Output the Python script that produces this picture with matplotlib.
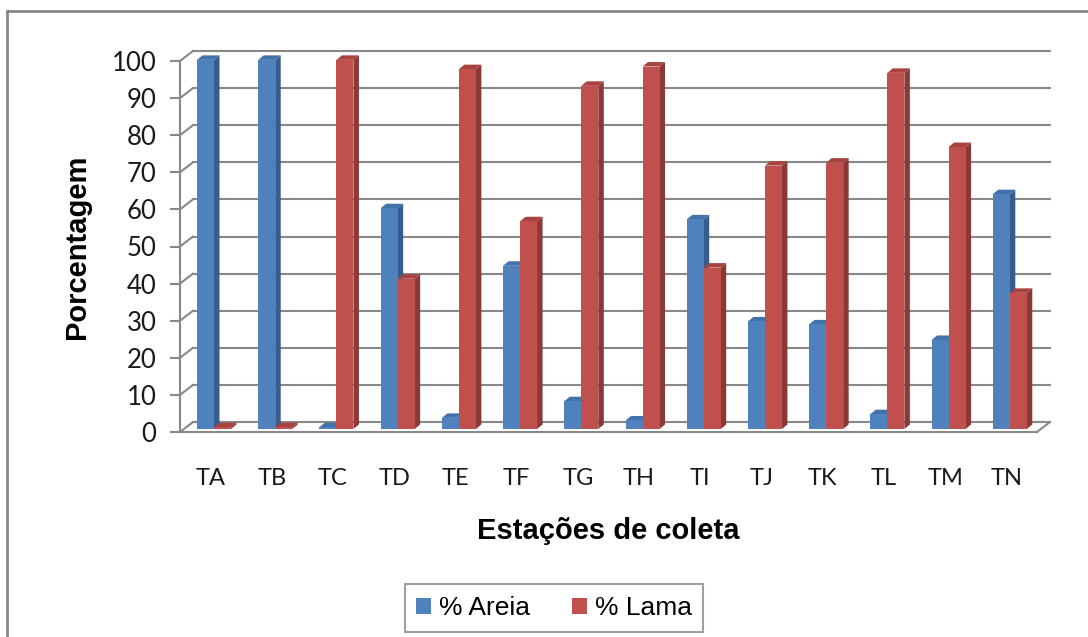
import numpy as np
import matplotlib.pyplot as plt
from matplotlib.patches import Polygon, Patch
from matplotlib.lines import Line2D

# data
stations = ['TA', 'TB', 'TC', 'TD', 'TE', 'TF', 'TG', 'TH', 'TI', 'TJ', 'TK', 'TL', 'TM', 'TN']
areia = [99.5, 99.5, 0.5, 59.5, 3.0, 44.0, 7.5, 2.3, 56.5, 29.0, 28.2, 4.0, 24.0, 63.3]
lama = [0.5, 0.5, 99.5, 40.5, 97.0, 56.0, 92.5, 97.7, 43.5, 71.0, 71.8, 96.0, 76.0, 36.7]
yticks = list(range(0, 101, 10))

W, H = 1088, 637
fig = plt.figure(figsize=(W / 100, H / 100), dpi=100)

# front axis: x 180..1037 px, y 432 (0) .. 61 (100) px
x0p, x1p, y0p, y1p = 180, 1037, 432, 61
ax = fig.add_axes([x0p / W, 1 - y0p / H, (x1p - x0p) / W, (y0p - y1p) / H])
n = len(stations)
ax.set_xlim(-0.5, n - 0.5)
ax.set_ylim(0, 100)
upx = (x1p - x0p) / n          # px per category
upy = (y0p - y1p) / 100.0      # px per percent

grey = '#888888'
lw = 1.5

# 3d offsets (in data units)
dx, dy = 13 / upx, 10 / upy            # wall depth
bw = 17 / upx                           # bar width
ox, oy = 3.4 / upx, 3 / upy             # bar front offset from floor edge
sx, sy = 5.5 / upx, 4.5 / upy           # bar depth

# back wall grid and side wall connectors
for v in yticks:
    ax.plot([-0.5 + dx, n - 0.5 + dx], [v + dy, v + dy], color=grey, lw=lw, zorder=1, clip_on=False)
    ax.plot([-0.5, -0.5 + dx], [v, v + dy], color=grey, lw=lw, zorder=1, clip_on=False)
ax.plot([n - 0.5, n - 0.5 + dx], [0, dy], color=grey, lw=lw, zorder=1, clip_on=False)

front = {'blue': '#4f81bd', 'red': '#c0504d'}
side = {'blue': '#375d8c', 'red': '#8c3836'}
top = {'blue': '#4372aa', 'red': '#a84340'}

x = np.arange(n)
series = [(areia, 'blue', '% Areia', -bw), (lama, 'red', '% Lama', 0.0)]
handles = []
z = 2
for vals, c, lab, shift in series:
    left = x + shift + ox
    for xl, v in zip(left, vals):
        xr = xl + bw
        ax.add_patch(Polygon([(xr, oy), (xr + sx, oy + sy), (xr + sx, oy + v + sy), (xr, oy + v)],
                             closed=True, fc=side[c], ec='none', zorder=z, clip_on=False))
        ax.add_patch(Polygon([(xl, oy + v), (xr, oy + v), (xr + sx, oy + v + sy), (xl + sx, oy + v + sy)],
                             closed=True, fc=top[c], ec='none', zorder=z, clip_on=False))
    ax.bar(left, vals, width=bw, bottom=oy, align='edge', color=front[c], zorder=z + 1, clip_on=False)
    handles.append(Patch(fc=front[c], label=lab))
    z += 2

for s in ['top', 'right']:
    ax.spines[s].set_visible(False)
for s in ['left', 'bottom']:
    ax.spines[s].set_color(grey)
    ax.spines[s].set_linewidth(lw)
    ax.spines[s].set_zorder(0.5)

ax.set_yticks(yticks)
ax.set_xticks(x)
ax.set_xticklabels(stations)
ax.tick_params(axis='y', length=7, width=lw, color=grey, pad=10, labelsize=18.5, labelcolor='#1a1a1a')
ax.tick_params(axis='x', length=0, pad=26, labelsize=17, labelcolor='#1a1a1a')
for t in ax.get_xticklabels() + ax.get_yticklabels():
    t.set_family('Lato')

ax.set_ylabel('Porcentagem', fontsize=21, fontweight='bold', family='Liberation Sans', labelpad=15)
ax.set_xlabel('Estações de coleta', fontsize=21, fontweight='bold', family='Liberation Sans', labelpad=20)

leg = fig.legend(handles=handles, loc='center', bbox_to_anchor=(554 / W, 1 - 608 / H), ncol=2,
                 fancybox=False, edgecolor=grey, prop={'family': 'Liberation Sans', 'size': 19},
                 handlelength=0.55, handleheight=0.55, handletextpad=0.3, columnspacing=1.6,
                 borderpad=0.45, borderaxespad=0)
leg.get_frame().set_linewidth(lw)

# chart area border (left and top only visible)
fig.add_artist(Line2D([7 / W, 7 / W], [0, 1 - 11 / H], color=grey, lw=2))
fig.add_artist(Line2D([7 / W, 1], [1 - 11 / H, 1 - 11 / H], color=grey, lw=2))

fig.savefig('out.png', dpi=100)
